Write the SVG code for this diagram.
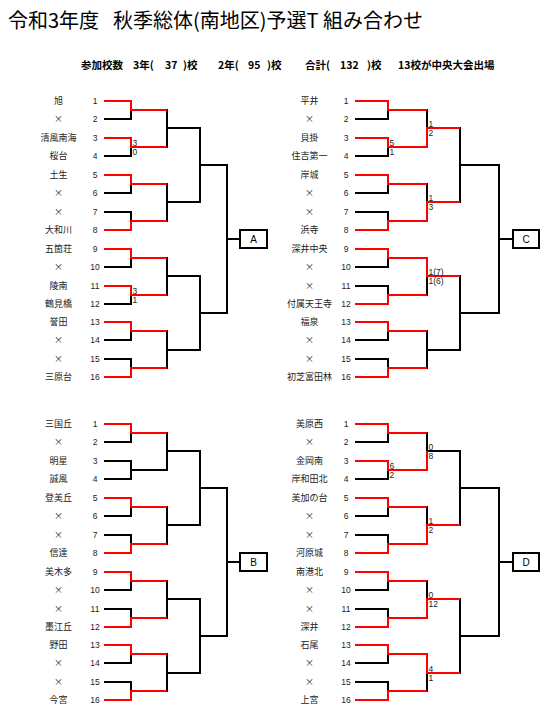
<svg xmlns="http://www.w3.org/2000/svg" width="549" height="716" viewBox="0 0 549 716">
<style>
.bg{fill:#fff}
.sk{fill:none;stroke:#000;stroke-width:2;stroke-linejoin:miter}
.rd{fill:none;stroke:#f00;stroke-width:2;stroke-linejoin:miter}
.box{fill:#fff;stroke:#000;stroke-width:2}
.nm{font-family:"Noto Sans CJK JP","Noto Sans",sans-serif;font-size:9px;text-anchor:middle;fill:#222}
.no{font-family:"Liberation Sans",Arial,sans-serif;font-size:8.5px;text-anchor:middle;fill:#222}
.sc{font-family:"Liberation Sans",Arial,sans-serif;font-size:8.5px;fill:#222}
.bl{font-family:"Liberation Sans",Arial,sans-serif;font-size:10px;text-anchor:middle;fill:#000}
.tt{font-family:"Noto Sans CJK JP",sans-serif;font-size:20px;fill:#000}
.st{font-family:"Noto Sans CJK JP",sans-serif;font-size:10.5px;font-weight:bold;fill:#000}
</style>
<defs>
<path id="skelL" d="M104 101H131V119H104M104 138H131V156H104M104 175H131V193H104M104 212H131V230H104M104 249H131V267H104M104 286H131V304H104M104 322H131V340H104M104 359H131V377H104M131 110H167V147H131M131 184H167V221H131M131 258H167V295H131M131 331H167V368H131M167 128H200V202H167M167 276H200V350H167M200 165H227V313H200M227 239H240"/>
<path id="skelR" d="M355 101H388V119H355M355 138H388V156H355M355 175H388V193H355M355 212H388V230H355M355 249H388V267H355M355 286H388V304H355M355 322H388V340H355M355 359H388V377H355M388 110H427V147H388M388 184H427V221H388M388 258H427V295H388M388 331H427V368H388M427 128H460V202H427M427 276H460V350H427M460 165H499V313H460M499 239H513"/>
</defs>
<rect class="bg" x="0" y="0" width="549" height="716"/>
<g id="header">
<text class="tt" x="8" y="28">令和3年度</text>
<text class="tt" x="113" y="28">秋季総体(南地区)予選T 組み合わせ</text>
<text class="st" x="81" y="68.5">参加校数</text>
<text class="st" x="133" y="68.5">3年(</text>
<text class="st" x="165" y="68.5">37</text>
<text class="st" x="183" y="68.5">)校</text>
<text class="st" x="218" y="68.5">2年(</text>
<text class="st" x="248" y="68.5">95</text>
<text class="st" x="267" y="68.5">)校</text>
<text class="st" x="305" y="68.5">合計(</text>
<text class="st" x="340" y="68.5">132</text>
<text class="st" x="367" y="68.5">)校</text>
<text class="st" x="398" y="68.5">13校が中央大会出場</text>
</g>
<g id="connectors">
<use href="#skelL" class="sk"/>
<use href="#skelR" class="sk"/>
<use href="#skelL" class="sk" y="323"/>
<use href="#skelR" class="sk" y="323"/>
<path class="rd" d="M104 101H131V110H167M104 138H131V147H167M104 175H131V184H167M104 230H131V221H167M104 249H131V258H167M104 286H131V295H167M104 322H131V331H167M104 377H131V368H167"/>
<path class="rd" d="M355 101H388V110H427M355 138H388V147H427V128H460M355 175H388V184H427M355 230H388V221H427V202H460M355 249H388V258H427V276H460M355 304H388V295H427M355 322H388V331H427M355 377H388V368H427"/>
<g transform="translate(0,323)">
<path class="rd" d="M104 101H131V110H167M104 175H131V184H167M104 230H131V221H167M104 249H131V258H167M104 304H131V295H167M104 322H131V331H167M104 377H131V368H167"/>
<path class="rd" d="M355 101H388V110H427M355 138H388V147H427V128M355 175H388V184H427M355 230H388V221H427V202H460M355 249H388V258H427M355 304H388V295H427V276H460M355 322H388V331H427V350H460M355 377H388V368H427"/>
</g>
</g>
<g id="scores">
<text class="sc" x="132.5" y="146">3</text><text class="sc" x="132.5" y="155.3">0</text>
<text class="sc" x="132.5" y="294">3</text><text class="sc" x="132.5" y="303.3">1</text>
<text class="sc" x="389.5" y="146">5</text><text class="sc" x="389.5" y="155.3">1</text>
<text class="sc" x="428.5" y="127">1</text><text class="sc" x="428.5" y="136.3">2</text>
<text class="sc" x="428.5" y="201">1</text><text class="sc" x="428.5" y="210.3">3</text>
<text class="sc" x="428.5" y="275">1(7)</text><text class="sc" x="428.5" y="284.3">1(6)</text>
<g transform="translate(0,323)">
<text class="sc" x="389.5" y="146">6</text><text class="sc" x="389.5" y="155.3">2</text>
<text class="sc" x="428.5" y="127">0</text><text class="sc" x="428.5" y="136.3">8</text>
<text class="sc" x="428.5" y="201">1</text><text class="sc" x="428.5" y="210.3">2</text>
<text class="sc" x="428.5" y="275">0</text><text class="sc" x="428.5" y="284.3">12</text>
<text class="sc" x="428.5" y="349">4</text><text class="sc" x="428.5" y="358.3">1</text>
</g>
</g>
<g id="box-A"><rect class="box" x="240" y="230" width="27" height="18"/><text class="bl" x="253.5" y="242.6">A</text></g>
<g id="box-C"><rect class="box" x="513" y="230" width="26" height="18"/><text class="bl" x="526" y="242.6">C</text></g>
<g id="box-B"><rect class="box" x="240" y="553" width="27" height="18"/><text class="bl" x="253.5" y="565.6">B</text></g>
<g id="box-D"><rect class="box" x="513" y="553" width="26" height="18"/><text class="bl" x="526" y="565.6">D</text></g>
<g id="teams-A">
<text class="nm" x="58.5" y="104.2">旭</text><text class="no" x="95" y="104.2">1</text>
<text class="nm" x="58.5" y="122.2">×</text><text class="no" x="95" y="122.2">2</text>
<text class="nm" x="58.5" y="141.2">清風南海</text><text class="no" x="95" y="141.2">3</text>
<text class="nm" x="58.5" y="159.2">桜台</text><text class="no" x="95" y="159.2">4</text>
<text class="nm" x="58.5" y="178.2">土生</text><text class="no" x="95" y="178.2">5</text>
<text class="nm" x="58.5" y="196.2">×</text><text class="no" x="95" y="196.2">6</text>
<text class="nm" x="58.5" y="215.2">×</text><text class="no" x="95" y="215.2">7</text>
<text class="nm" x="58.5" y="233.2">大和川</text><text class="no" x="95" y="233.2">8</text>
<text class="nm" x="58.5" y="252.2">五箇荘</text><text class="no" x="95" y="252.2">9</text>
<text class="nm" x="58.5" y="270.2">×</text><text class="no" x="95" y="270.2">10</text>
<text class="nm" x="58.5" y="289.2">陵南</text><text class="no" x="95" y="289.2">11</text>
<text class="nm" x="58.5" y="307.2">鶴見橋</text><text class="no" x="95" y="307.2">12</text>
<text class="nm" x="58.5" y="325.2">誉田</text><text class="no" x="95" y="325.2">13</text>
<text class="nm" x="58.5" y="343.2">×</text><text class="no" x="95" y="343.2">14</text>
<text class="nm" x="58.5" y="362.2">×</text><text class="no" x="95" y="362.2">15</text>
<text class="nm" x="58.5" y="380.2">三原台</text><text class="no" x="95" y="380.2">16</text>
</g>
<g id="teams-C">
<text class="nm" x="309.5" y="104.2">平井</text><text class="no" x="346" y="104.2">1</text>
<text class="nm" x="309.5" y="122.2">×</text><text class="no" x="346" y="122.2">2</text>
<text class="nm" x="309.5" y="141.2">貝掛</text><text class="no" x="346" y="141.2">3</text>
<text class="nm" x="309.5" y="159.2">住吉第一</text><text class="no" x="346" y="159.2">4</text>
<text class="nm" x="309.5" y="178.2">岸城</text><text class="no" x="346" y="178.2">5</text>
<text class="nm" x="309.5" y="196.2">×</text><text class="no" x="346" y="196.2">6</text>
<text class="nm" x="309.5" y="215.2">×</text><text class="no" x="346" y="215.2">7</text>
<text class="nm" x="309.5" y="233.2">浜寺</text><text class="no" x="346" y="233.2">8</text>
<text class="nm" x="309.5" y="252.2">深井中央</text><text class="no" x="346" y="252.2">9</text>
<text class="nm" x="309.5" y="270.2">×</text><text class="no" x="346" y="270.2">10</text>
<text class="nm" x="309.5" y="289.2">×</text><text class="no" x="346" y="289.2">11</text>
<text class="nm" x="309.5" y="307.2">付属天王寺</text><text class="no" x="346" y="307.2">12</text>
<text class="nm" x="309.5" y="325.2">福泉</text><text class="no" x="346" y="325.2">13</text>
<text class="nm" x="309.5" y="343.2">×</text><text class="no" x="346" y="343.2">14</text>
<text class="nm" x="309.5" y="362.2">×</text><text class="no" x="346" y="362.2">15</text>
<text class="nm" x="309.5" y="380.2">初芝富田林</text><text class="no" x="346" y="380.2">16</text>
</g>
<g id="teams-B" transform="translate(0,323)">
<text class="nm" x="58.5" y="104.2">三国丘</text><text class="no" x="95" y="104.2">1</text>
<text class="nm" x="58.5" y="122.2">×</text><text class="no" x="95" y="122.2">2</text>
<text class="nm" x="58.5" y="141.2">明星</text><text class="no" x="95" y="141.2">3</text>
<text class="nm" x="58.5" y="159.2">誠風</text><text class="no" x="95" y="159.2">4</text>
<text class="nm" x="58.5" y="178.2">登美丘</text><text class="no" x="95" y="178.2">5</text>
<text class="nm" x="58.5" y="196.2">×</text><text class="no" x="95" y="196.2">6</text>
<text class="nm" x="58.5" y="215.2">×</text><text class="no" x="95" y="215.2">7</text>
<text class="nm" x="58.5" y="233.2">信達</text><text class="no" x="95" y="233.2">8</text>
<text class="nm" x="58.5" y="252.2">美木多</text><text class="no" x="95" y="252.2">9</text>
<text class="nm" x="58.5" y="270.2">×</text><text class="no" x="95" y="270.2">10</text>
<text class="nm" x="58.5" y="289.2">×</text><text class="no" x="95" y="289.2">11</text>
<text class="nm" x="58.5" y="307.2">墨江丘</text><text class="no" x="95" y="307.2">12</text>
<text class="nm" x="58.5" y="325.2">野田</text><text class="no" x="95" y="325.2">13</text>
<text class="nm" x="58.5" y="343.2">×</text><text class="no" x="95" y="343.2">14</text>
<text class="nm" x="58.5" y="362.2">×</text><text class="no" x="95" y="362.2">15</text>
<text class="nm" x="58.5" y="380.2">今宮</text><text class="no" x="95" y="380.2">16</text>
</g>
<g id="teams-D" transform="translate(0,323)">
<text class="nm" x="309.5" y="104.2">美原西</text><text class="no" x="346" y="104.2">1</text>
<text class="nm" x="309.5" y="122.2">×</text><text class="no" x="346" y="122.2">2</text>
<text class="nm" x="309.5" y="141.2">金岡南</text><text class="no" x="346" y="141.2">3</text>
<text class="nm" x="309.5" y="159.2">岸和田北</text><text class="no" x="346" y="159.2">4</text>
<text class="nm" x="309.5" y="178.2">美加の台</text><text class="no" x="346" y="178.2">5</text>
<text class="nm" x="309.5" y="196.2">×</text><text class="no" x="346" y="196.2">6</text>
<text class="nm" x="309.5" y="215.2">×</text><text class="no" x="346" y="215.2">7</text>
<text class="nm" x="309.5" y="233.2">河原城</text><text class="no" x="346" y="233.2">8</text>
<text class="nm" x="309.5" y="252.2">南港北</text><text class="no" x="346" y="252.2">9</text>
<text class="nm" x="309.5" y="270.2">×</text><text class="no" x="346" y="270.2">10</text>
<text class="nm" x="309.5" y="289.2">×</text><text class="no" x="346" y="289.2">11</text>
<text class="nm" x="309.5" y="307.2">深井</text><text class="no" x="346" y="307.2">12</text>
<text class="nm" x="309.5" y="325.2">石尾</text><text class="no" x="346" y="325.2">13</text>
<text class="nm" x="309.5" y="343.2">×</text><text class="no" x="346" y="343.2">14</text>
<text class="nm" x="309.5" y="362.2">×</text><text class="no" x="346" y="362.2">15</text>
<text class="nm" x="309.5" y="380.2">上宮</text><text class="no" x="346" y="380.2">16</text>
</g>
</svg>
